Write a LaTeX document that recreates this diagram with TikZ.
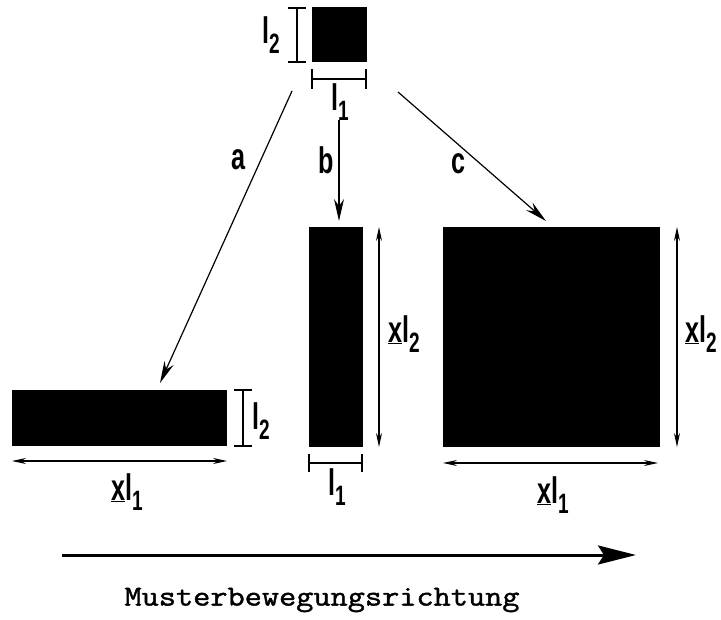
\documentclass[tikz,border=0pt]{standalone}
\usepackage{fontspec}
\usepackage{graphicx}
\newfontfamily\condfont{Liberation Sans}
\newfontfamily\typefont[FakeBold=1.5,FakeStretch=1.15]{Latin Modern Mono}
\usetikzlibrary{arrows.meta}
\newcommand\lsub[2]{#1\raisebox{-0.28em}{\fontsize{28}{28}\selectfont #2}}
\newcommand\cnd[1]{\scalebox{0.68}[1]{\condfont\bfseries\fontsize{37}{37}\selectfont #1}}
\tikzset{
  blk/.style={fill=black, draw=none, inner sep=0pt, outer sep=0pt},
  lbl/.style={inner sep=0pt},
  thin/.style={line width=1.1pt},
  dimarr/.style={thin, {Stealth[length=14pt,width=6pt]}-{Stealth[length=14pt,width=6pt]}},
  maparr/.style={line width=1.2pt, -{Stealth[length=22pt,width=10pt]}},
  bigarr/.style={line width=3pt, -{Stealth[length=38pt,width=19pt,inset=6pt]}},
}
\begin{document}
\begin{tikzpicture}[x=1pt,y=-1pt]
\useasboundingbox (0,0) rectangle (721,620);
% blocks
\node[blk, minimum width=55pt, minimum height=55pt] (sq) at (339.5,34.5) {};
\node[blk, minimum width=215pt, minimum height=56pt] (wide) at (119.5,418) {};
\node[blk, minimum width=54pt, minimum height=220pt] (tall) at (336,337) {};
\node[blk, minimum width=217pt, minimum height=220pt] (big) at (551.5,337) {};
% top dimensions
\draw[thin] (297,8) -- (297,62) (288,8) -- (306,8) (288,62) -- (306,62);
\node[lbl] (tl2) at (271,35) {\cnd{\lsub{l}{2}}};
\draw[thin] (312,79) -- (366,79) (312,69) -- (312,89) (366,69) -- (366,89);
\node[lbl] (tl1) at (340,102) {\cnd{\lsub{l}{1}}};
% mapping arrows
\coordinate (a0) at (292,91); \coordinate (a1) at (160,383);
\coordinate (b0) at (339,120); \coordinate (b1) at (339,221);
\coordinate (c0) at (398,92); \coordinate (c1) at (546,221);
\draw[maparr] (a0) -- (a1);
\draw[maparr] (b0) -- (b1);
\draw[maparr] (c0) -- (c1);
\node[lbl] (la) at (238,160) {\cnd{a}};
\node[lbl] (lb) at (326,160) {\cnd{b}};
\node[lbl] (lc) at (458,164) {\cnd{c}};
% wide rectangle dims
\draw[thin] (243,390) -- (243,446) (234,390) -- (252,390) (234,446) -- (252,446);
\node[lbl] (wl2) at (261,421) {\cnd{\lsub{l}{2}}};
\draw[dimarr] (12,461) -- (227,461);
\node[lbl] (wxl1) at (127,492) {\cnd{\underline{x}\lsub{l}{1}}};
% tall rectangle dims
\draw[dimarr] (379,227) -- (379,447);
\node[lbl] (txl2) at (404,334) {\cnd{\underline{x}\lsub{l}{2}}};
\draw[thin] (309,463) -- (362,463) (309,454) -- (309,472) (362,454) -- (362,472);
\node[lbl] (tl1b) at (337,487) {\cnd{\lsub{l}{1}}};
% big square dims
\draw[dimarr] (677,227) -- (677,447);
\node[lbl] (bxl2) at (701,334) {\cnd{\underline{x}\lsub{l}{2}}};
\draw[dimarr] (443,463) -- (658,463);
\node[lbl] (bxl1) at (553,495) {\cnd{\underline{x}\lsub{l}{1}}};
% direction
\coordinate (m0) at (62,555); \coordinate (m1) at (636,555);
\draw[bigarr] (m0) -- (m1);
\node[font=\typefont\fontsize{29}{29}\selectfont, inner sep=0pt] (mtxt) at (322,600) {Musterbewegungsrichtung};
\end{tikzpicture}
\end{document}
